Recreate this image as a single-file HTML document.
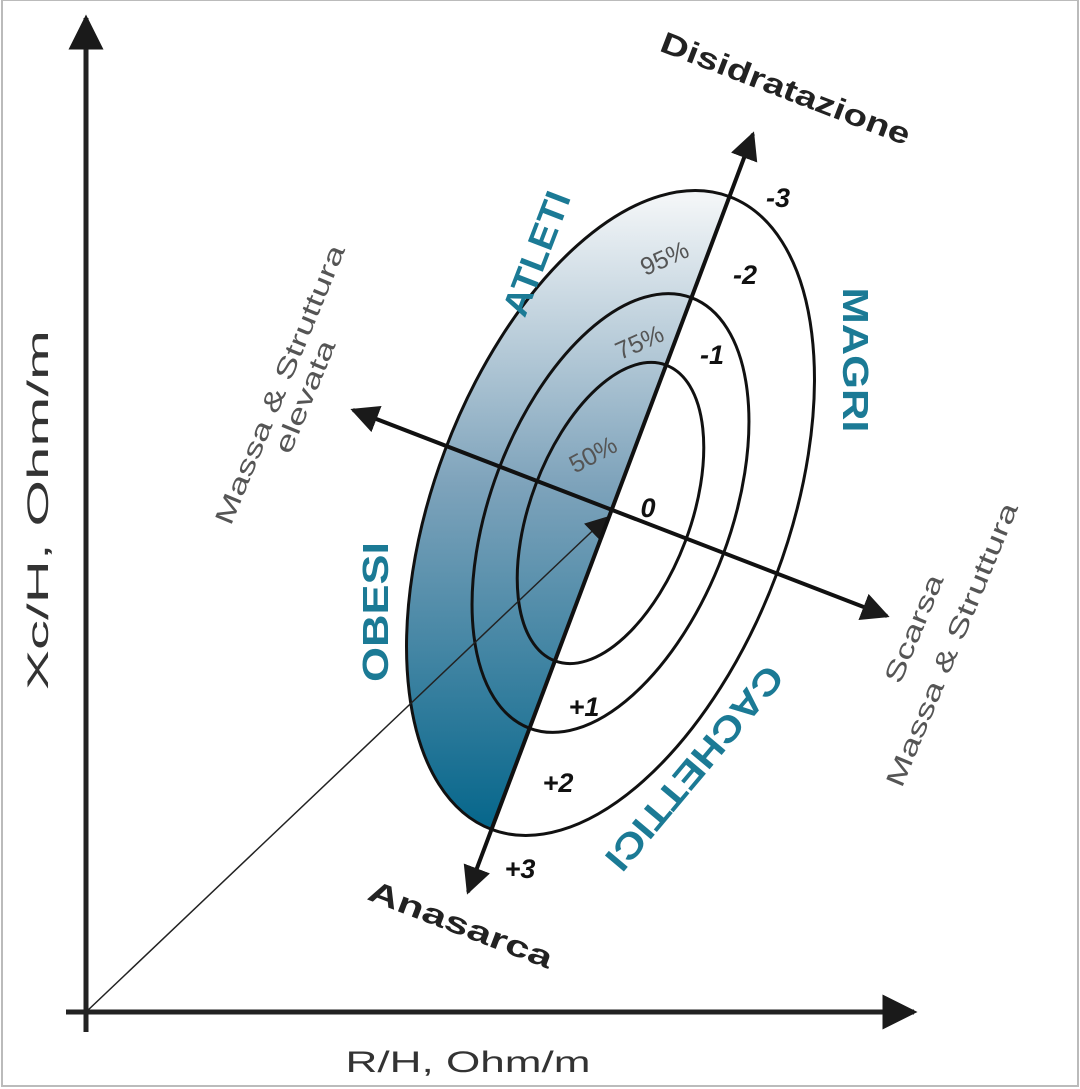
<!DOCTYPE html>
<html><head><meta charset="utf-8"><style>
html,body{margin:0;padding:0;background:#fff}
svg{display:block}
text{font-family:"Liberation Sans",sans-serif}
</style></head><body>
<svg width="1080" height="1089" viewBox="0 0 1080 1089" xmlns="http://www.w3.org/2000/svg">
<defs>
<linearGradient id="g" gradientUnits="userSpaceOnUse" x1="0" y1="200" x2="0" y2="830">
<stop offset="0" stop-color="#f2f5f7"/>
<stop offset="0.45" stop-color="#7ea3bb"/>
<stop offset="1" stop-color="#05668b"/>
</linearGradient>
<marker id="ah" viewBox="0 0 10 10" refX="9" refY="5" markerWidth="7" markerHeight="7" orient="auto-start-reverse" markerUnits="strokeWidth">
<path d="M0,0 L10,5 L0,10 z" fill="#1a1a1a"/>
</marker>
<marker id="ah2" viewBox="0 0 10 10" refX="9" refY="5" markerWidth="22" markerHeight="22" orient="auto" markerUnits="userSpaceOnUse">
<path d="M0,0 L10,5 L0,10 z" fill="#1a1a1a"/>
</marker>
</defs>
<rect x="2" y="0" width="1076" height="1086" fill="none" stroke="#bbb" stroke-width="2"/>

<!-- shaded left half -->
<path d="M729.4,196.6 A338,177 -69.4 0 0 491.6,829.4 Z" fill="url(#g)"/>

<!-- ellipses -->
<g transform="translate(610.5,513) rotate(-69.4)" fill="none" stroke="#111" stroke-width="3">
<ellipse cx="0" cy="0" rx="338" ry="177"/>
<ellipse cx="0" cy="0" rx="230" ry="120"/>
<ellipse cx="0" cy="0" rx="158" ry="80"/>
</g>

<!-- thin line from origin -->
<line x1="86" y1="1012" x2="606" y2="518" stroke="#222" stroke-width="1.5" marker-end="url(#ah2)"/>

<!-- axes -->
<line x1="86" y1="1032" x2="86" y2="18" stroke="#222" stroke-width="5" marker-end="url(#ah)"/>
<line x1="66" y1="1012" x2="914" y2="1012" stroke="#222" stroke-width="5" marker-end="url(#ah)"/>

<!-- major & minor axes -->
<line x1="468" y1="892" x2="753" y2="134" stroke="#111" stroke-width="4" marker-start="url(#ah)" marker-end="url(#ah)"/>
<line x1="353" y1="410" x2="887" y2="616" stroke="#111" stroke-width="4" marker-start="url(#ah)" marker-end="url(#ah)"/>

<!-- labels -->
<text transform="translate(782,98) rotate(21)" text-anchor="middle" font-size="30" font-weight="bold" fill="#222" textLength="265" lengthAdjust="spacingAndGlyphs">Disidratazione</text>
<text transform="translate(457,934) rotate(21)" text-anchor="middle" font-size="30" font-weight="bold" fill="#222" textLength="195" lengthAdjust="spacingAndGlyphs">Anasarca</text>

<text transform="translate(548,258) rotate(-69)" text-anchor="middle" font-size="36" font-weight="bold" fill="#1b7a95" textLength="130" lengthAdjust="spacingAndGlyphs">ATLETI</text>
<text transform="translate(843,360) rotate(90)" text-anchor="middle" font-size="36" font-weight="bold" fill="#1b7a95" textLength="145" lengthAdjust="spacingAndGlyphs">MAGRI</text>
<text transform="translate(388,612) rotate(-90)" text-anchor="middle" font-size="36" font-weight="bold" fill="#1b7a95" textLength="140" lengthAdjust="spacingAndGlyphs">OBESI</text>
<text transform="translate(685,760) rotate(130)" text-anchor="middle" font-size="36" font-weight="bold" fill="#1b7a95" textLength="255" lengthAdjust="spacingAndGlyphs">CACHETTICI</text>

<text transform="translate(288,388) rotate(-67.5)" text-anchor="middle" font-size="26" fill="#555" textLength="300" lengthAdjust="spacingAndGlyphs">Massa &amp; Struttura</text>
<text transform="translate(313,400) rotate(-67.5)" text-anchor="middle" font-size="26" fill="#555" textLength="120" lengthAdjust="spacingAndGlyphs">elevata</text>
<text transform="translate(922,632) rotate(-67.5)" text-anchor="middle" font-size="26" fill="#555" textLength="115" lengthAdjust="spacingAndGlyphs">Scarsa</text>
<text transform="translate(960,648) rotate(-67.5)" text-anchor="middle" font-size="26" fill="#555" textLength="305" lengthAdjust="spacingAndGlyphs">Massa &amp; Struttura</text>

<text transform="translate(668,266) rotate(-24)" text-anchor="middle" font-size="25" fill="#555">95%</text>
<text transform="translate(643,350) rotate(-24)" text-anchor="middle" font-size="25" fill="#555">75%</text>
<text transform="translate(597,462) rotate(-28)" text-anchor="middle" font-size="25" fill="#555">50%</text>

<g font-size="27" font-weight="bold" font-style="italic" fill="#111" text-anchor="middle">
<text x="778" y="207">-3</text>
<text x="745" y="284">-2</text>
<text x="712" y="364">-1</text>
<text x="648" y="517">0</text>
<text x="584" y="716">+1</text>
<text x="558" y="792">+2</text>
<text x="520" y="878">+3</text>
</g>

<text transform="translate(48,510) rotate(-90)" text-anchor="middle" font-size="30" fill="#333" textLength="360" lengthAdjust="spacingAndGlyphs">Xc/H, Ohm/m</text>
<text x="468" y="1072" text-anchor="middle" font-size="30" fill="#333" textLength="245" lengthAdjust="spacingAndGlyphs">R/H, Ohm/m</text>
</svg>
</body></html>
